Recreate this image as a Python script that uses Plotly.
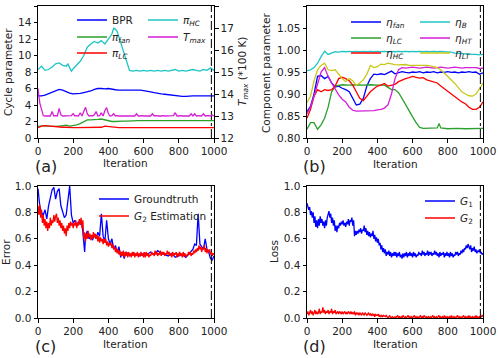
import plotly.graph_objects as go

# ---------------- data ----------------
it5 = list(range(0, 1001, 5))
it10 = list(range(0, 1001, 10))
it20 = list(range(0, 1001, 20))

# panel (a) cycle parameters
bpr = [5.1, 5.1, 5.2, 5.4, 5.6, 5.8, 5.9, 5.8, 5.6, 5.45, 5.35, 5.35, 5.4, 5.5, 5.6, 5.7,
       5.9, 6.0, 6.0, 5.95, 6.0, 5.9, 5.85, 5.8, 5.8, 5.85, 5.8, 5.85, 5.8, 5.8, 5.75, 5.7,
       5.6, 5.5, 5.4, 5.35, 5.3, 5.25, 5.15, 5.1, 5.1, 5.05, 5.05, 5.1, 5.1, 5.1, 5.1, 5.15,
       5.1, 5.1, 5.1]

pi_hc_x = [0, 20, 40, 60, 80, 100, 120, 140, 160, 170, 180, 190, 200, 220, 240, 260, 280,
           300, 320, 340, 360, 380, 400, 420, 430, 440, 450, 460, 480, 500, 520, 540, 560,
           580, 600, 620, 640, 660, 680, 700, 720, 740, 760, 780, 800, 820, 840, 860, 880,
           900, 920, 940, 960, 980, 1000]
pi_hc = [8.3, 8.7, 8.2, 8.3, 8.6, 9.0, 9.1, 8.8, 8.7, 9.0, 8.5, 8.1, 8.4, 8.8, 9.3, 10.0,
         11.0, 11.4, 11.7, 11.5, 11.8, 11.4, 12.0, 12.6, 13.3, 13.2, 12.9, 12.2, 10.8, 9.3,
         8.2, 8.1, 8.2, 8.1, 8.2, 8.1, 8.2, 8.1, 8.2, 8.1, 8.2, 8.1, 8.2, 8.3, 8.1, 8.2, 8.1,
         8.2, 8.3, 8.2, 8.1, 8.3, 8.2, 8.5, 8.2]

pi_fan = [1.4, 1.45, 1.5, 1.45, 1.4, 1.4, 1.45, 1.5, 1.55, 1.45, 1.5, 1.6, 1.75, 1.95, 2.2,
          2.2, 2.2, 2.25, 2.3, 2.2, 2.1, 2.0, 2.0, 2.05, 2.05, 2.05, 2.1, 2.08, 2.1, 2.1, 2.08,
          2.1, 2.1, 2.08, 2.1, 2.1, 2.1, 2.08, 2.1, 2.1, 2.1, 2.08, 2.1, 2.1, 2.1, 2.08, 2.1,
          2.1, 2.1, 2.08, 2.1]

pi_lc = [1.25, 1.45, 1.5, 1.45, 1.4, 1.35, 1.3, 1.3, 1.3, 1.25, 1.25, 1.25, 1.25, 1.25, 1.25,
         1.25, 1.25, 1.25, 1.3, 1.45, 1.4, 1.3, 1.25, 1.25, 1.25, 1.25, 1.25, 1.25, 1.25, 1.25,
         1.25, 1.25, 1.25, 1.25, 1.25, 1.25, 1.25, 1.25, 1.25, 1.25, 1.25, 1.25, 1.25, 1.25,
         1.25, 1.25, 1.25, 1.25, 1.25, 1.25, 1.25]

t_max = [14.25, 13.6, 13.3, 13.02, 13.0, 13.0, 13.02, 13.0, 13.2, 13.0, 13.02, 13.0, 13.35,
         13.05, 13.0, 13.0, 13.02, 13.0, 13.0, 13.02, 13.1, 13.0, 13.02, 13.0, 13.15, 13.0,
         13.2, 13.4, 13.1, 13.0, 13.02, 13.0, 13.05, 13.2, 13.0, 13.02, 13.15, 13.0, 13.25,
         13.38, 13.1, 13.0, 13.02, 13.1, 13.0, 13.02, 13.0, 13.0, 13.02, 13.0, 13.0, 13.02,
         13.0, 13.0, 13.02, 13.0, 13.1, 13.0, 13.0, 13.02, 13.0, 13.0, 13.02, 13.0, 13.0,
         13.1, 13.0, 13.02, 13.0, 13.0, 13.0, 13.02, 13.0, 13.0, 13.02, 13.0, 13.0, 13.02,
         13.15, 13.0, 13.0, 13.02, 13.0, 13.0, 13.02, 13.0, 13.0, 13.1, 13.0, 13.1, 13.0,
         13.02, 13.0, 13.0, 13.1, 13.0, 13.02, 13.0, 13.0, 13.05, 13.0]

# panel (b) component parameters
eta_fan = [0.86, 0.872, 0.9, 0.94, 0.942, 0.935, 0.94, 0.925, 0.916, 0.918, 0.913, 0.91,
           0.905, 0.888, 0.875, 0.877, 0.89, 0.918, 0.935, 0.945, 0.944, 0.946, 0.944, 0.948,
           0.952, 0.946, 0.949, 0.951, 0.949, 0.948, 0.95, 0.949, 0.951, 0.948, 0.95, 0.949,
           0.951, 0.948, 0.95, 0.949, 0.951, 0.949, 0.95, 0.948, 0.95, 0.949, 0.951, 0.949,
           0.95, 0.945, 0.948]

eta_lc_x = [0, 20, 40, 60, 80, 100, 120, 140, 160, 180, 200, 240, 280, 320, 360, 400, 440,
            460, 480, 500, 520, 540, 560, 580, 600, 620, 640, 660, 700, 740, 750, 760, 800,
            850, 900, 950, 1000]
eta_lc = [0.82, 0.835, 0.835, 0.82, 0.83, 0.845, 0.87, 0.905, 0.918, 0.92, 0.921, 0.92,
          0.921, 0.92, 0.921, 0.92, 0.92, 0.915, 0.91, 0.91, 0.903, 0.89, 0.875, 0.86, 0.848,
          0.835, 0.824, 0.822, 0.822, 0.823, 0.833, 0.823, 0.821, 0.822, 0.821, 0.822, 0.822]

eta_hc = [0.845, 0.865, 0.895, 0.91, 0.905, 0.91, 0.908, 0.91, 0.918, 0.935, 0.938, 0.935,
          0.93, 0.92, 0.905, 0.89, 0.885, 0.895, 0.905, 0.912, 0.918, 0.92, 0.924, 0.918,
          0.92, 0.922, 0.928, 0.932, 0.935, 0.937, 0.94, 0.938, 0.936, 0.937, 0.932, 0.93,
          0.928, 0.925, 0.918, 0.912, 0.905, 0.9, 0.894, 0.888, 0.882, 0.878, 0.87, 0.865,
          0.865, 0.87, 0.882]

eta_b = [0.953, 0.955, 0.96, 0.97, 0.985, 0.997, 0.99, 0.993, 0.996, 0.995, 0.997, 0.996,
         0.997, 0.996, 0.997, 0.996, 0.997, 0.996, 0.997, 0.996, 0.997, 0.996, 0.997, 0.996,
         0.997, 0.996, 0.997, 0.996, 0.997, 0.996, 0.997, 0.996, 0.997, 0.996, 0.997, 0.996,
         0.997, 0.996, 0.997, 0.996, 0.996, 0.995, 0.993, 0.993, 0.992, 0.991, 0.99, 0.99,
         0.99, 0.989, 0.99]

eta_ht = [0.855, 0.87, 0.895, 0.925, 0.95, 0.96, 0.94, 0.925, 0.91, 0.898, 0.888, 0.882,
          0.87, 0.863, 0.861, 0.861, 0.862, 0.861, 0.862, 0.862, 0.864, 0.865, 0.868, 0.875,
          0.9, 0.935, 0.955, 0.96, 0.959, 0.96, 0.961, 0.96, 0.959, 0.96, 0.961, 0.96, 0.959,
          0.96, 0.961, 0.96, 0.959, 0.96, 0.961, 0.96, 0.959, 0.96, 0.96, 0.959, 0.96, 0.958,
          0.959]

eta_lt = [0.88, 0.895, 0.93, 0.955, 0.965, 0.97, 0.955, 0.953, 0.955, 0.945, 0.935, 0.928,
          0.935, 0.93, 0.92, 0.925, 0.932, 0.945, 0.965, 0.96, 0.962, 0.968, 0.967, 0.97,
          0.968, 0.967, 0.966, 0.966, 0.967, 0.965, 0.965, 0.966, 0.965, 0.966, 0.965, 0.964,
          0.962, 0.96, 0.955, 0.948, 0.94, 0.932, 0.924, 0.915, 0.905, 0.9, 0.896, 0.895, 0.9,
          0.912, 0.925]

# panel (c) error
truth_x = [0, 10, 20, 30, 40, 50, 60, 70, 80, 90, 100, 110, 120, 130, 140, 150, 160, 170,
           180, 190, 200, 210, 220, 230, 240, 250, 260, 265, 270, 280, 290, 300, 310, 320,
           330, 340, 350, 360, 370, 380, 390, 400, 410, 420, 430, 440, 450, 460, 470, 480,
           490, 500, 520, 540, 560, 580, 600, 620, 640, 660, 680, 700, 720, 740, 760, 780,
           800, 820, 840, 860, 880, 890, 900, 910, 920, 930, 940, 950, 960, 970, 980, 990,
           1000]
truth = [0.98, 0.85, 0.8, 0.78, 0.82, 0.75, 0.85, 0.92, 0.97, 0.99, 0.9, 0.96, 0.98, 0.85,
         0.8, 0.76, 0.78, 0.9, 1.0, 0.78, 0.72, 0.74, 0.7, 0.73, 0.71, 0.72, 0.6, 0.5, 0.62,
         0.66, 0.6, 0.62, 0.59, 0.63, 0.6, 0.65, 0.62, 0.79, 0.62, 0.58, 0.74, 0.6, 0.56, 0.6,
         0.52, 0.55, 0.5, 0.54, 0.46, 0.5, 0.45, 0.5, 0.47, 0.49, 0.48, 0.47, 0.49, 0.48, 0.5,
         0.48, 0.51, 0.49, 0.48, 0.47, 0.49, 0.46, 0.47, 0.48, 0.46, 0.49, 0.52, 0.56, 0.55,
         0.79, 0.56, 0.54, 0.52, 0.6, 0.52, 0.5, 0.45, 0.44, 0.47]

g2_est = [0.85, 0.78, 0.86, 0.76, 0.82, 0.72, 0.78, 0.7, 0.75, 0.68, 0.73, 0.66, 0.72, 0.68,
          0.76, 0.7, 0.74, 0.72, 0.78, 0.73,
          0.77, 0.79, 0.72, 0.76, 0.7, 0.74, 0.68, 0.72, 0.66, 0.7, 0.64, 0.68, 0.62, 0.7,
          0.66, 0.72, 0.68, 0.73, 0.7, 0.72,
          0.68, 0.72, 0.7, 0.74, 0.68, 0.72, 0.7, 0.75, 0.71, 0.76, 0.68, 0.74, 0.6, 0.65,
          0.58, 0.64, 0.6, 0.66, 0.61, 0.64,
          0.59, 0.63, 0.6, 0.65, 0.61, 0.64, 0.6, 0.63, 0.58, 0.62, 0.57, 0.61, 0.58, 0.6,
          0.56, 0.6, 0.57, 0.6, 0.55, 0.58,
          0.54, 0.57, 0.55, 0.57, 0.53, 0.56, 0.52, 0.54, 0.5, 0.53, 0.49, 0.52, 0.48, 0.51,
          0.47, 0.5, 0.47, 0.51, 0.46, 0.5,
          0.47, 0.5, 0.46, 0.5, 0.47, 0.49, 0.46, 0.5, 0.47, 0.5, 0.46, 0.49, 0.47, 0.5,
          0.46, 0.49, 0.47, 0.5, 0.47, 0.49,
          0.46, 0.5, 0.46, 0.5, 0.47, 0.49, 0.46, 0.48, 0.47, 0.5, 0.48, 0.49, 0.47, 0.51,
          0.48, 0.5, 0.47, 0.49, 0.48, 0.51,
          0.47, 0.5, 0.48, 0.5, 0.47, 0.49, 0.48, 0.51, 0.48, 0.5, 0.47, 0.49, 0.46, 0.5,
          0.47, 0.49, 0.48, 0.5, 0.46, 0.49,
          0.47, 0.5, 0.47, 0.49, 0.46, 0.5, 0.47, 0.49, 0.46, 0.48, 0.47, 0.5, 0.48, 0.5,
          0.47, 0.49, 0.48, 0.51, 0.49, 0.52,
          0.5, 0.53, 0.51, 0.55, 0.52, 0.54, 0.5, 0.53, 0.52, 0.55, 0.5, 0.53, 0.49, 0.52,
          0.5, 0.52, 0.48, 0.5, 0.47, 0.49,
          0.48]

# panel (d) loss
g1_loss = [0.87, 0.85, 0.82, 0.84, 0.78, 0.81, 0.76, 0.8, 0.72, 0.77, 0.69, 0.74, 0.68,
           0.75, 0.7, 0.77, 0.72, 0.75, 0.7, 0.73,
           0.68, 0.74, 0.7, 0.76, 0.78, 0.81, 0.76, 0.79, 0.72, 0.76, 0.7, 0.74, 0.66, 0.7,
           0.65, 0.7, 0.68, 0.72, 0.7, 0.73,
           0.71, 0.74, 0.7, 0.72, 0.69, 0.73, 0.71, 0.75, 0.7, 0.74, 0.73, 0.76, 0.7, 0.74,
           0.62, 0.66, 0.63, 0.66, 0.64, 0.67,
           0.65, 0.68, 0.64, 0.67, 0.66, 0.7, 0.65, 0.68, 0.63, 0.66, 0.62, 0.65, 0.61, 0.64,
           0.62, 0.66, 0.6, 0.63, 0.58, 0.61,
           0.57, 0.6, 0.55, 0.57, 0.52, 0.55, 0.5, 0.53, 0.49, 0.52, 0.47, 0.5, 0.48, 0.51,
           0.47, 0.5, 0.46, 0.49, 0.47, 0.5,
           0.47, 0.5, 0.46, 0.49, 0.47, 0.5, 0.46, 0.48, 0.45, 0.49, 0.46, 0.49, 0.47, 0.5,
           0.46, 0.49, 0.47, 0.5, 0.47, 0.49,
           0.46, 0.5, 0.47, 0.49, 0.46, 0.48, 0.47, 0.5, 0.48, 0.49, 0.47, 0.51, 0.48, 0.5,
           0.47, 0.49, 0.48, 0.51, 0.47, 0.5,
           0.48, 0.5, 0.47, 0.49, 0.48, 0.51, 0.48, 0.5, 0.47, 0.49, 0.46, 0.5, 0.47, 0.49,
           0.48, 0.5, 0.46, 0.49, 0.47, 0.5,
           0.47, 0.49, 0.46, 0.5, 0.47, 0.49, 0.46, 0.48, 0.47, 0.5, 0.48, 0.5, 0.47, 0.49,
           0.48, 0.51, 0.49, 0.52, 0.5, 0.53,
           0.52, 0.55, 0.53, 0.56, 0.54, 0.52, 0.55, 0.5, 0.53, 0.51, 0.54, 0.5, 0.52, 0.49,
           0.51, 0.5, 0.52, 0.49, 0.5, 0.48,
           0.49]

g2_loss = [0.03, 0.05, 0.02, 0.04, 0.06, 0.03, 0.05, 0.02, 0.04, 0.06, 0.03, 0.05, 0.03,
           0.04, 0.07, 0.03, 0.05, 0.04, 0.08, 0.04,
           0.06, 0.03, 0.05, 0.04, 0.06, 0.03, 0.05, 0.04, 0.07, 0.03, 0.05, 0.04, 0.06,
           0.03, 0.04, 0.05, 0.03, 0.05, 0.04, 0.03,
           0.05, 0.03, 0.04, 0.05, 0.03, 0.04, 0.03, 0.05, 0.04, 0.03, 0.05, 0.03, 0.04,
           0.03, 0.05, 0.02, 0.04, 0.03, 0.04, 0.02,
           0.04, 0.03, 0.02, 0.04, 0.03, 0.02, 0.04, 0.03, 0.02, 0.03, 0.04, 0.02, 0.03,
           0.02, 0.03, 0.02, 0.03, 0.01, 0.03, 0.02,
           0.02, 0.03, 0.01, 0.02, 0.01, 0.02, 0.01, 0.02, 0.01, 0.01, 0.02, 0.01, 0.0,
           0.01, 0.02, 0.0, 0.01, 0.01, 0.0, 0.01,
           0.01, 0.0, 0.01, 0.02, 0.0, 0.01, 0.0, 0.01, 0.0, 0.02, 0.01, 0.0, 0.01, 0.0,
           0.01, 0.02, 0.0, 0.01, 0.0, 0.01,
           0.0, 0.01, 0.02, 0.0, 0.01, 0.0, 0.01, 0.0, 0.01, 0.02, 0.0, 0.01, 0.0, 0.02,
           0.01, 0.0, 0.01, 0.0, 0.01, 0.0,
           0.01, 0.0, 0.01, 0.02, 0.0, 0.01, 0.0, 0.01, 0.0, 0.01, 0.02, 0.0, 0.01, 0.0,
           0.01, 0.0, 0.02, 0.0, 0.01, 0.0,
           0.01, 0.0, 0.01, 0.0, 0.02, 0.0, 0.01, 0.0, 0.01, 0.0, 0.01, 0.02, 0.0, 0.01,
           0.0, 0.01, 0.0, 0.01, 0.02, 0.0,
           0.01, 0.0, 0.01, 0.0, 0.02, 0.0, 0.01, 0.0, 0.01, 0.0, 0.01, 0.0, 0.02, 0.0,
           0.01, 0.0, 0.01, 0.0, 0.01, 0.02,
           0.01]

stop_iter = 985  # dash-dot marker near the end of training

# ---------------- figure ----------------
FONT = "DejaVu Sans"
TXT = "#222222"
BLUE, GREEN, RED = "#0000ff", "#2ca02c", "#ff0000"
CYAN, MAGENTA, OLIVE = "#1fc4c4", "#d61ed6", "#c8c81a"
W, H = 498, 358

fig = go.Figure()

# one legend per entry so each can sit where the reference puts it
legend_spots = {}


def add_line(x, y, color, name, xa, ya, lx, ly):
    key = "legend" if not legend_spots else "legend%d" % (len(legend_spots) + 1)
    legend_spots[key] = (lx, ly)
    fig.add_trace(go.Scatter(
        x=x, y=y, mode="lines", name=name,
        line=dict(color=color, width=1.3),
        xaxis=xa, yaxis=ya, legend=key
    ))


# (a)
add_line(it20, bpr, BLUE, "BPR", "x", "y", 72, 20)
add_line(it20, pi_fan, GREEN, "<i>π</i><sub><i>fan</i></sub>", "x", "y", 72, 37)
add_line(it20, pi_lc, RED, "<i>π</i><sub><i>LC</i></sub>", "x", "y", 72, 53)
add_line(pi_hc_x, pi_hc, CYAN, "<i>π</i><sub><i>HC</i></sub>", "x", "y", 143, 20)
add_line(it10, t_max, MAGENTA, "<i>T</i><sub><i>max</i></sub>", "x", "y5", 143, 37)

# (b)
add_line(it20, eta_fan, BLUE, "<i>η</i><sub><i>fan</i></sub>", "x2", "y2", 346, 22)
add_line(eta_lc_x, eta_lc, GREEN, "<i>η</i><sub><i>LC</i></sub>", "x2", "y2", 346, 38)
add_line(it20, eta_hc, RED, "<i>η</i><sub><i>HC</i></sub>", "x2", "y2", 346, 53)
add_line(it20, eta_b, CYAN, "<i>η</i><sub><i>B</i></sub>", "x2", "y2", 415, 22)
add_line(it20, eta_ht, MAGENTA, "<i>η</i><sub><i>HT</i></sub>", "x2", "y2", 415, 38)
add_line(it20, eta_lt, OLIVE, "<i>η</i><sub><i>LT</i></sub>", "x2", "y2", 415, 53)

# (c)
add_line(truth_x, truth, BLUE, "Groundtruth", "x3", "y3", 94, 199)
add_line(it5, g2_est, RED, "<i>G</i><sub>2</sub> Estimation", "x3", "y3", 94, 216)

# (d)
add_line(it5, g1_loss, BLUE, "<i>G</i><sub>1</sub>", "x4", "y4", 420, 201)
add_line(it5, g2_loss, RED, "<i>G</i><sub>2</sub>", "x4", "y4", 420, 218)

# dash-dot stop line in every panel
for xa, ya, lo, hi in [("x", "y", 0, 16), ("x2", "y2", 0.8, 1.1),
                       ("x3", "y3", 0, 1), ("x4", "y4", 0, 1)]:
    fig.add_trace(go.Scatter(
        x=[stop_iter, stop_iter], y=[lo, hi], mode="lines", showlegend=False,
        line=dict(color="black", width=1, dash="dashdot"), xaxis=xa, yaxis=ya
    ))


def xdom(l, r):
    return [l / W, r / W]


def ydom(t, b):
    return [(H - b) / H, (H - t) / H]


axis_common = dict(
    showline=True, linecolor="black", linewidth=1, mirror=True,
    ticks="outside", ticklen=3.5, tickwidth=1, tickcolor="black",
    showgrid=False, zeroline=False, automargin=False,
    tickfont=dict(family=FONT, size=10.5, color=TXT),
)
xcommon = dict(axis_common, range=[0, 1000], tickvals=[0, 200, 400, 600, 800, 1000])

fig.update_layout(
    width=W, height=H,
    margin=dict(l=0, r=0, t=0, b=0, autoexpand=False),
    plot_bgcolor="white", paper_bgcolor="white",
    font=dict(family=FONT, size=10.5, color=TXT),
    xaxis=dict(xcommon, domain=xdom(38, 214), anchor="y"),
    yaxis=dict(axis_common, domain=ydom(6, 138), anchor="x", range=[0, 16], dtick=2),
    yaxis5=dict(axis_common, overlaying="y", side="right", anchor="x", range=[12, 18],
                dtick=1, mirror=False),
    xaxis2=dict(xcommon, domain=xdom(307, 483), anchor="y2"),
    yaxis2=dict(axis_common, domain=ydom(6, 138), anchor="x2", range=[0.8, 1.1],
                dtick=0.05, tickformat=".2f"),
    xaxis3=dict(xcommon, domain=xdom(38, 214), anchor="y3"),
    yaxis3=dict(axis_common, domain=ydom(186, 318), anchor="x3", range=[0, 1],
                dtick=0.2, tickformat=".1f"),
    xaxis4=dict(xcommon, domain=xdom(307, 483), anchor="y4"),
    yaxis4=dict(axis_common, domain=ydom(186, 318), anchor="x4", range=[0, 1],
                dtick=0.2, tickformat=".1f"),
)

for key, (lx, ly) in legend_spots.items():
    fig.update_layout({key: dict(
        bgcolor="rgba(0,0,0,0)", borderwidth=0, xanchor="left", yanchor="middle",
        x=lx / W, y=(H - ly) / H, itemwidth=30,
        font=dict(family=FONT, size=10.5, color=TXT))})

# axis titles and panel letters as paper annotations
titles = [
    ("Cycle parameter", 8, 72, -90),
    ("<i>T</i><sub><i>max</i></sub> (*100 K)", 243, 72, -90),
    ("Component parameter", 266, 73, -90),
    ("Error", 6, 252, -90),
    ("Loss", 274, 252, -90),
    ("Iteration", 126, 163, 0),
    ("Iteration", 395, 164, 0),
    ("Iteration", 126, 344, 0),
    ("Iteration", 395, 344, 0),
]
for text, px, py, ang in titles:
    fig.add_annotation(text=text, x=px / W, y=(H - py) / H, xref="paper", yref="paper",
                       xanchor="center", yanchor="middle", showarrow=False, textangle=ang,
                       font=dict(family=FONT, size=10.5, color=TXT))

for label, px, py in [("(a)", 33, 166), ("(b)", 301, 166), ("(c)", 33, 346), ("(d)", 301, 346)]:
    fig.add_annotation(text=label, x=px / W, y=(H - py) / H, xref="paper", yref="paper",
                       xanchor="left", yanchor="middle", showarrow=False,
                       font=dict(family=FONT, size=16, color=TXT))

# the page body has a default 8px margin; drop it so the figure fills the window
fig.write_html("out.html", config={"displayModeBar": False},
               post_script="document.body.style.margin='0';")
